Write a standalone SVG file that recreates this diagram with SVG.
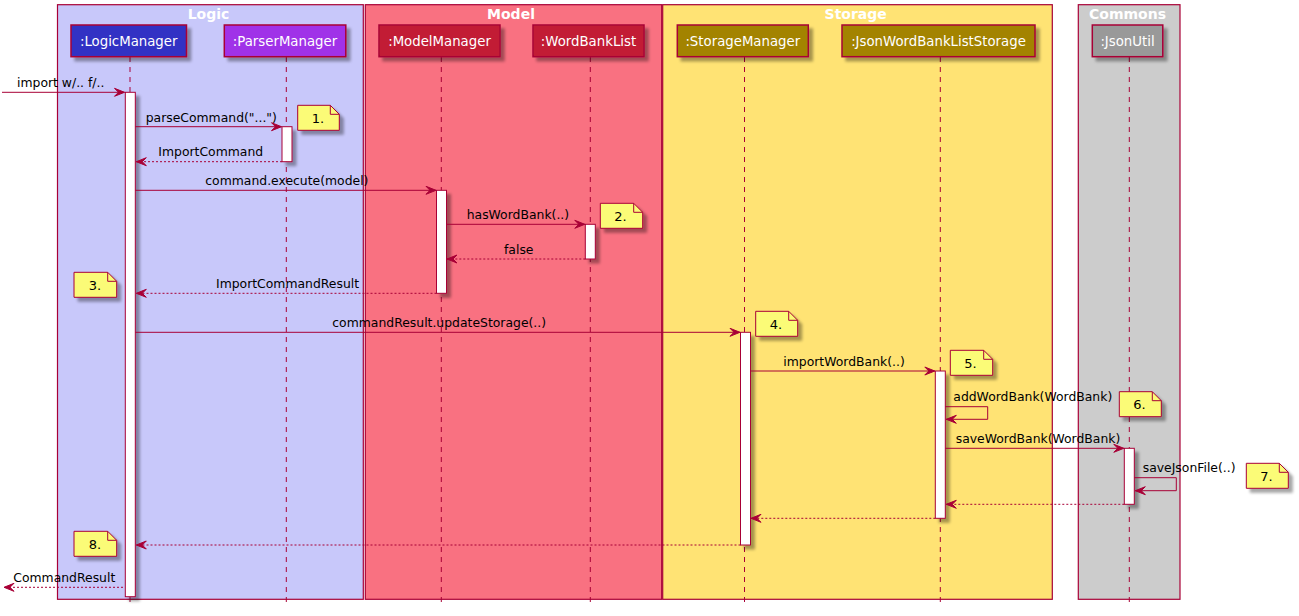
<svg xmlns="http://www.w3.org/2000/svg" width="1299" height="616" viewBox="0 0 1299 616">
<defs>
<filter id="sh" filterUnits="userSpaceOnUse" x="0" y="0" width="1299" height="616">
<feGaussianBlur in="SourceAlpha" stdDeviation="1.8"/>
<feOffset dx="4" dy="4" result="o"/>
<feComponentTransfer><feFuncA type="linear" slope="0.35"/></feComponentTransfer>
<feMerge><feMergeNode/><feMergeNode in="SourceGraphic"/></feMerge>
</filter>
<marker id="ah" markerUnits="userSpaceOnUse" markerWidth="12" markerHeight="10" refX="10" refY="4" orient="auto" overflow="visible">
<path d="M0,0 L10,4 L0,8 L4,4 Z" fill="#A80036" stroke="#A80036" stroke-width="1" stroke-dasharray="none"/>
</marker>
</defs>
<style>
.grp{stroke:#A80036;stroke-width:1.2}
.gt{font-family:"DejaVu Sans",sans-serif;font-size:14px;font-weight:bold;fill:#FFFFFF;text-anchor:middle}
.pb{stroke:#A80036;stroke-width:1.5;filter:url(#sh)}
.pt{font-family:"DejaVu Sans",sans-serif;font-size:13.3px;fill:#FFFFFF;text-anchor:middle}
.ll{stroke:#A80036;stroke-width:1;stroke-dasharray:5,5;fill:none}
.act{fill:#FFFFFF;stroke:#A80036;stroke-width:1;filter:url(#sh)}
.m{stroke:#A80036;stroke-width:1;fill:none;marker-end:url(#ah)}
.r{stroke:#A80036;stroke-width:1;fill:none;stroke-dasharray:2,2;marker-end:url(#ah)}
.ml{font-family:"DejaVu Sans",sans-serif;font-size:12.4px;fill:#000000}
.nb{fill:#FBFB77;stroke:#A80036;stroke-width:1;filter:url(#sh)}
.nf{fill:none;stroke:#A80036;stroke-width:1}
.nt{font-family:"DejaVu Sans",sans-serif;font-size:13px;fill:#000000;text-anchor:middle}
</style>
<rect width="1299" height="616" fill="#FFFFFF"/>

<g id="group-logic">
<rect class="grp" x="57.5" y="4.7" width="305.8" height="594.6" fill="#C8C8FA"/>
<text class="gt" x="208.5" y="18.5">Logic</text>
</g>
<g id="group-model">
<rect class="grp" x="365.3" y="4.7" width="296.4" height="594.6" fill="#F97181"/>
<text class="gt" x="511" y="18.5">Model</text>
</g>
<g id="group-storage">
<rect class="grp" x="662.7" y="4.7" width="389.6" height="594.6" fill="#FFE374"/>
<text class="gt" x="855.7" y="18.5">Storage</text>
</g>
<g id="group-commons">
<rect class="grp" x="1078.3" y="4.7" width="101.7" height="594.6" fill="#CCCCCC"/>
<text class="gt" x="1127.5" y="18.5">Commons</text>
</g>

<g id="lifelines">
<line class="ll" x1="130" y1="57" x2="130" y2="606"/>
<line class="ll" x1="286.3" y1="57" x2="286.3" y2="606"/>
<line class="ll" x1="441.3" y1="57" x2="441.3" y2="606"/>
<line class="ll" x1="590.3" y1="57" x2="590.3" y2="606"/>
<line class="ll" x1="744.5" y1="57" x2="744.5" y2="606"/>
<line class="ll" x1="940.3" y1="57" x2="940.3" y2="606"/>
<line class="ll" x1="1129.3" y1="57" x2="1129.3" y2="606"/>
</g>

<g id="p-logicmanager">
<rect class="pb" x="71" y="25" width="115.5" height="31.7" fill="#3333C4"/>
<text class="pt" x="128.7" y="46">:LogicManager</text>
<rect class="act" x="125.3" y="92.3" width="10" height="504.4"/>
</g>
<g id="p-parsermanager">
<rect class="pb" x="224.3" y="25" width="121.5" height="31.7" fill="#A033E8"/>
<text class="pt" x="285" y="46">:ParserManager</text>
<rect class="act" x="282" y="126.7" width="10" height="35"/>
</g>
<g id="p-modelmanager">
<rect class="pb" x="379" y="25" width="121" height="31.7" fill="#C21D36"/>
<text class="pt" x="439.5" y="46">:ModelManager</text>
<rect class="act" x="436.5" y="190.3" width="10" height="103"/>
</g>
<g id="p-wordbanklist">
<rect class="pb" x="533" y="25" width="111" height="31.7" fill="#C21D36"/>
<text class="pt" x="588.5" y="46">:WordBankList</text>
<rect class="act" x="585.3" y="224.3" width="10" height="34.7"/>
</g>
<g id="p-storagemanager">
<rect class="pb" x="677.3" y="25" width="131" height="31.7" fill="#A38300"/>
<text class="pt" x="742.8" y="46">:StorageManager</text>
<rect class="act" x="740.5" y="332.3" width="10" height="212.7"/>
</g>
<g id="p-jsonwordbankliststorage">
<rect class="pb" x="842" y="25" width="193" height="31.7" fill="#A38300"/>
<text class="pt" x="938.5" y="46">:JsonWordBankListStorage</text>
<rect class="act" x="935.3" y="371" width="10" height="147.3"/>
</g>
<g id="p-jsonutil">
<rect class="pb" x="1092.3" y="25" width="70.5" height="31.7" fill="#999999"/>
<text class="pt" x="1127.5" y="46">:JsonUtil</text>
<rect class="act" x="1124.3" y="448.3" width="10" height="56"/>
</g>

<g id="connectors">
<line class="m" x1="2" y1="92.3" x2="124.5" y2="92.3"/>
<text class="ml" x="17" y="87">import w/.. f/..</text>
<line class="m" x1="135.3" y1="126.7" x2="281.5" y2="126.7"/>
<text class="ml" x="145.7" y="121.5">parseCommand("...")</text>
<line class="r" x1="282" y1="161.7" x2="136.3" y2="161.7"/>
<text class="ml" x="158.3" y="156">ImportCommand</text>
<line class="m" x1="135.3" y1="190.3" x2="436" y2="190.3"/>
<text class="ml" x="205.3" y="185">command.execute(model)</text>
<line class="m" x1="446.5" y1="224.3" x2="584.8" y2="224.3"/>
<text class="ml" x="466.7" y="219">hasWordBank(..)</text>
<line class="r" x1="585.3" y1="259" x2="447" y2="259"/>
<text class="ml" x="504" y="253.5">false</text>
<line class="r" x1="436.5" y1="293.3" x2="136.3" y2="293.3"/>
<text class="ml" x="216" y="288">ImportCommandResult</text>
<line class="m" x1="135.3" y1="332.3" x2="740" y2="332.3"/>
<text class="ml" x="332.3" y="327">commandResult.updateStorage(..)</text>
<line class="m" x1="750.5" y1="371" x2="934.8" y2="371"/>
<text class="ml" x="783.3" y="366">importWordBank(..)</text>
<path class="m" d="M945.3,406.7 H987.7 V419.3 H946.3"/>
<text class="ml" x="953.3" y="401">addWordBank(WordBank)</text>
<line class="m" x1="945.3" y1="448.3" x2="1123.8" y2="448.3"/>
<text class="ml" x="955.7" y="443">saveWordBank(WordBank)</text>
<path class="m" d="M1134.3,477.7 H1176.3 V490.7 H1135.3"/>
<text class="ml" x="1142.7" y="472">saveJsonFile(..)</text>
<line class="r" x1="1124.3" y1="504.3" x2="946.3" y2="504.3"/>
<line class="r" x1="935.3" y1="518.3" x2="751" y2="518.3"/>
<line class="r" x1="740.5" y1="545" x2="136.3" y2="545"/>
<line class="r" x1="123" y1="587.3" x2="4" y2="587.3"/>
<text class="ml" x="13.3" y="582">CommandResult</text>
</g>

<g id="note-1">
<path class="nb" d="M297.7,105.3 H330.3 L339.3,114.3 V130.3 H297.7 Z"/>
<path class="nf" d="M330.3,105.3 V114.3 H339.3"/>
<text class="nt" x="318" y="122.5">1.</text>
</g>
<g id="note-2">
<path class="nb" d="M600.3,203.3 H633.7 L642.7,212.3 V228.3 H600.3 Z"/>
<path class="nf" d="M633.7,203.3 V212.3 H642.7"/>
<text class="nt" x="620.5" y="220.5">2.</text>
</g>
<g id="note-3">
<path class="nb" d="M74,272.3 H107.7 L116.7,281.3 V297.3 H74 Z"/>
<path class="nf" d="M107.7,272.3 V281.3 H116.7"/>
<text class="nt" x="95" y="289.5">3.</text>
</g>
<g id="note-4">
<path class="nb" d="M755.7,311.3 H788.7 L797.7,320.3 V336.3 H755.7 Z"/>
<path class="nf" d="M788.7,311.3 V320.3 H797.7"/>
<text class="nt" x="776" y="328.5">4.</text>
</g>
<g id="note-5">
<path class="nb" d="M950.3,350.3 H983.7 L992.7,359.3 V375.3 H950.3 Z"/>
<path class="nf" d="M983.7,350.3 V359.3 H992.7"/>
<text class="nt" x="970.5" y="367.5">5.</text>
</g>
<g id="note-6">
<path class="nb" d="M1119.3,391.7 H1152.3 L1161.3,400.7 V416.7 H1119.3 Z"/>
<path class="nf" d="M1152.3,391.7 V400.7 H1161.3"/>
<text class="nt" x="1139.5" y="408.7">6.</text>
</g>
<g id="note-7">
<path class="nb" d="M1246.3,463.3 H1279.3 L1288.3,472.3 V488.3 H1246.3 Z"/>
<path class="nf" d="M1279.3,463.3 V472.3 H1288.3"/>
<text class="nt" x="1266.5" y="480.5">7.</text>
</g>
<g id="note-8">
<path class="nb" d="M74,531.3 H107.7 L116.7,540.3 V556.3 H74 Z"/>
<path class="nf" d="M107.7,531.3 V540.3 H116.7"/>
<text class="nt" x="95" y="548.5">8.</text>
</g>
</svg>
